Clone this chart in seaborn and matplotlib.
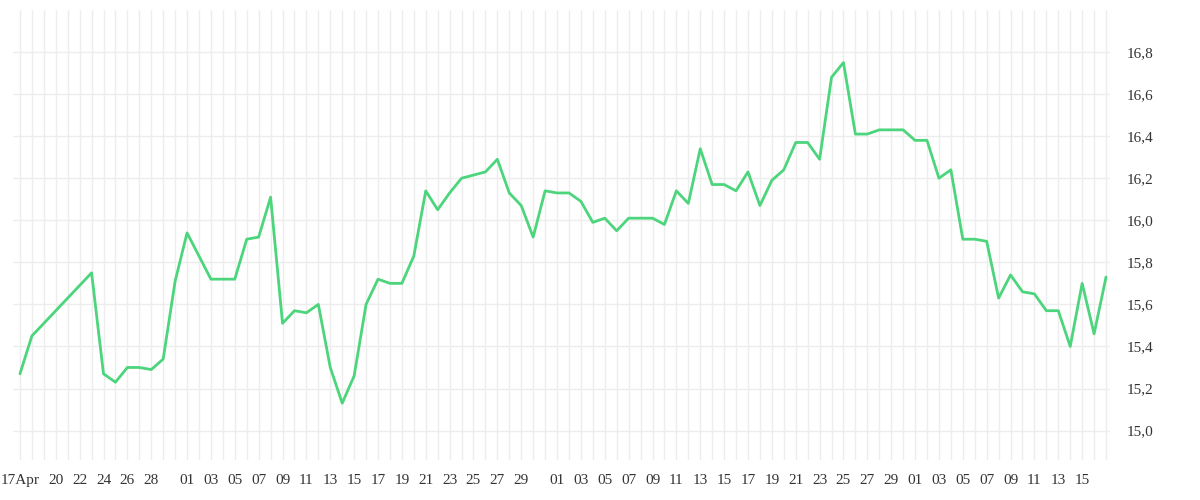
import matplotlib
matplotlib.use("Agg")
import matplotlib.pyplot as plt
import matplotlib.dates as mdates
import matplotlib.transforms as mtransforms
import seaborn as sns
import pandas as pd
import numpy as np

start = "2024-04-17"
day_offsets = [0, 1] + list(range(6, 92))
values = [15.27, 15.45,
          15.75, 15.27, 15.23, 15.30, 15.30, 15.29, 15.34, 15.71,
          15.94, 15.83, 15.72, 15.72, 15.72, 15.91, 15.92, 16.11,
          15.51, 15.57, 15.56, 15.60, 15.30, 15.13, 15.26, 15.60, 15.72, 15.70,
          15.70, 15.83, 16.14, 16.05, 16.13, 16.20, 16.215, 16.23, 16.29, 16.13,
          16.07, 15.92, 16.14, 16.13, 16.13, 16.09, 15.99, 16.01, 15.95, 16.01,
          16.01, 16.01, 15.98, 16.14, 16.08, 16.34, 16.17, 16.17, 16.14, 16.23,
          16.07, 16.19, 16.24, 16.37, 16.37, 16.29, 16.68, 16.75, 16.41, 16.41,
          16.43, 16.43, 16.43, 16.38, 16.38, 16.20, 16.24, 15.91, 15.91, 15.90,
          15.63, 15.74, 15.66, 15.65, 15.57, 15.57, 15.40, 15.70, 15.46, 15.73]
tick_labels = ["17Apr", "20", "22", "24", "26", "28"] + \
    [f"{d:02d}" for d in range(1, 30, 2)] + \
    [f"{d:02d}" for d in range(1, 30, 2)] + \
    [f"{d:02d}" for d in range(1, 16, 2)]
tick_dates = ["2024-04-17", "2024-04-20", "2024-04-22", "2024-04-24", "2024-04-26", "2024-04-28"] + \
    [f"2024-05-{d:02d}" for d in range(1, 30, 2)] + \
    [f"2024-06-{d:02d}" for d in range(1, 30, 2)] + \
    [f"2024-07-{d:02d}" for d in range(1, 16, 2)]

base = pd.Timestamp(start)
df = pd.DataFrame({"date": [base + pd.Timedelta(days=o) for o in day_offsets], "value": values})

sns.set_style("white")
fig = plt.figure(figsize=(12, 5), dpi=100)
ax = fig.add_axes([13/1200, 40/500, 1097/1200, 450/500])
sns.lineplot(data=df, x="date", y="value", ax=ax, color="#4cd57c", linewidth=2.0)

ax.set_xlim(base - pd.Timedelta(hours=14), base + pd.Timedelta(days=91, hours=8))
ax.set_ylim(14.86, 17.0)
ax.xaxis.set_minor_locator(mdates.DayLocator())
ax.set_xticks([pd.Timestamp(d) for d in tick_dates])
ax.set_xticklabels(tick_labels, family="Liberation Serif", fontsize=11, color="#333333", ha="center")
offset = mtransforms.ScaledTranslation(6/100, 0, fig.dpi_scale_trans)
for i, lbl in enumerate(ax.get_xticklabels()):
    extra = mtransforms.ScaledTranslation(4/100, 0, fig.dpi_scale_trans) if i == 0 else mtransforms.Affine2D()
    lbl.set_transform(lbl.get_transform() + offset + extra)
ax.set_yticks(np.arange(15.0, 16.81, 0.2))
ax.set_yticklabels([f"{v:.1f}".replace(".", ",") for v in np.arange(15.0, 16.81, 0.2)],
                   family="Liberation Serif", fontsize=11, color="#333333")
ax.yaxis.tick_right()
ax.grid(which="both", axis="x", color="#ededed", linewidth=1)
ax.grid(which="major", axis="y", color="#ededed", linewidth=1)
ax.tick_params(which="both", length=0, pad=10)
ax.tick_params(axis="y", pad=12)
ax.set_xlabel("")
ax.set_ylabel("")
for s in ax.spines.values():
    s.set_visible(False)
fig.savefig("out.png", dpi=100)
